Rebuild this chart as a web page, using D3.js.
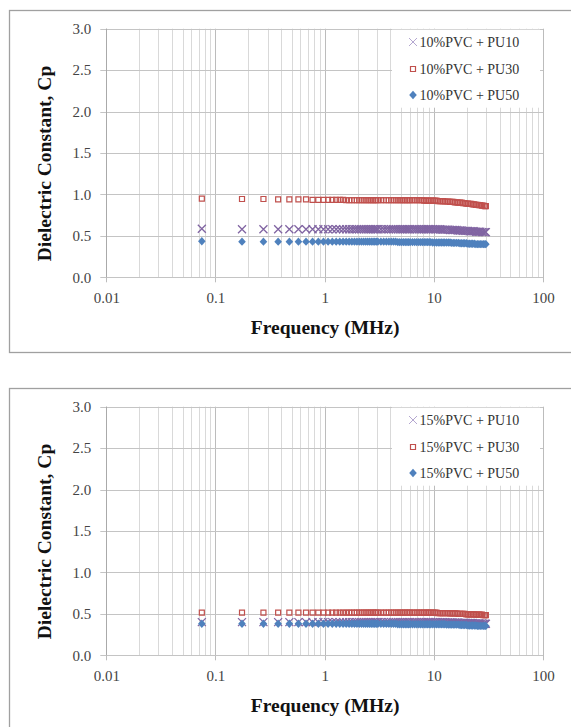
<!DOCTYPE html>
<html>
<head>
<meta charset="utf-8">
<script src="https://cdn.jsdelivr.net/npm/d3@7"></script>
<style>
  body { margin: 0; background: #fff; }
  text { font-family: "Liberation Serif", "Times New Roman", serif; }
</style>
</head>
<body>
<div id="chart"></div>
<script>
// Frequency sweep (MHz), shared by every series
const FREQ = [
  0.075, 0.175, 0.275, 0.375, 0.475, 0.575, 0.675, 0.775, 0.875, 0.975,
  1.075, 1.175, 1.275, 1.375, 1.475, 1.575, 1.675, 1.775, 1.875, 1.975,
  2.075, 2.175, 2.275, 2.375, 2.475, 2.575, 2.675, 2.775, 2.875, 2.975,
  3.075, 3.275, 3.475, 3.675, 3.875, 4.075, 4.275, 4.475, 4.675, 4.875, 5.075, 5.275, 5.475, 5.675, 5.875, 6.075,
  6.375, 6.675, 6.975, 7.275, 7.575, 7.875, 8.175, 8.475, 8.775, 9.075, 9.375,
  9.775, 10.175, 10.575, 10.975, 11.375, 11.775, 12.175, 12.575,
  13.075, 13.575, 14.075, 14.575, 15.075, 15.575,
  16.175, 16.775, 17.375, 17.975, 18.575, 19.175,
  19.875, 20.575, 21.275, 21.975, 22.675,
  23.475, 24.275, 25.075, 25.875, 26.675,
  27.575, 28.475, 29.375, 29.975
];

// 10% PVC panel
const CP_10_PU10 = [
  0.585, 0.58, 0.58, 0.58, 0.58, 0.58, 0.58, 0.58, 0.58, 0.58,
  0.58, 0.58, 0.58, 0.58, 0.58, 0.58, 0.58, 0.58, 0.58, 0.58,
  0.58, 0.58, 0.58, 0.58, 0.58, 0.58, 0.58, 0.58, 0.58, 0.58,
  0.58, 0.58, 0.58, 0.58, 0.58, 0.58, 0.58, 0.58, 0.58, 0.58, 0.58, 0.58, 0.58, 0.58, 0.58, 0.58,
  0.58, 0.58, 0.58, 0.58, 0.58, 0.58, 0.58, 0.58, 0.58, 0.58, 0.58,
  0.58, 0.58, 0.58, 0.58, 0.58, 0.575, 0.575, 0.575,
  0.575, 0.575, 0.57, 0.57, 0.57, 0.57,
  0.57, 0.565, 0.565, 0.565, 0.56, 0.56,
  0.56, 0.56, 0.555, 0.555, 0.555,
  0.555, 0.55, 0.55, 0.55, 0.55,
  0.545, 0.545, 0.545, 0.545
];
const CP_10_PU30 = [
  0.95, 0.945, 0.945, 0.94, 0.94, 0.94, 0.94, 0.935, 0.935, 0.935,
  0.935, 0.935, 0.935, 0.935, 0.935, 0.93, 0.93, 0.93, 0.93, 0.93,
  0.93, 0.93, 0.93, 0.93, 0.93, 0.93, 0.93, 0.93, 0.93, 0.93,
  0.93, 0.93, 0.93, 0.93, 0.93, 0.93, 0.93, 0.93, 0.93, 0.93, 0.93, 0.93, 0.93, 0.93, 0.93, 0.93,
  0.93, 0.93, 0.93, 0.93, 0.93, 0.93, 0.925, 0.925, 0.925, 0.925, 0.925,
  0.925, 0.925, 0.925, 0.92, 0.92, 0.92, 0.92, 0.915,
  0.915, 0.915, 0.91, 0.91, 0.91, 0.905,
  0.905, 0.90, 0.90, 0.90, 0.895, 0.895,
  0.89, 0.89, 0.885, 0.885, 0.88,
  0.88, 0.875, 0.875, 0.87, 0.87,
  0.865, 0.865, 0.86, 0.86
];
const CP_10_PU50 = [
  0.435, 0.43, 0.43, 0.43, 0.43, 0.43, 0.43, 0.43, 0.43, 0.43,
  0.43, 0.43, 0.43, 0.43, 0.43, 0.43, 0.43, 0.43, 0.43, 0.43,
  0.43, 0.43, 0.43, 0.43, 0.43, 0.43, 0.43, 0.43, 0.43, 0.43,
  0.43, 0.43, 0.43, 0.43, 0.43, 0.43, 0.43, 0.43, 0.425, 0.425, 0.425, 0.425, 0.425, 0.425, 0.425, 0.425,
  0.425, 0.425, 0.425, 0.425, 0.425, 0.425, 0.425, 0.425, 0.425, 0.425, 0.425,
  0.42, 0.42, 0.42, 0.42, 0.42, 0.42, 0.42, 0.42,
  0.42, 0.42, 0.42, 0.415, 0.415, 0.415,
  0.415, 0.415, 0.41, 0.41, 0.41, 0.41,
  0.41, 0.405, 0.405, 0.405, 0.405,
  0.405, 0.40, 0.40, 0.40, 0.40,
  0.40, 0.40, 0.40, 0.40
];

// 15% PVC panel
const CP_15_PU10 = [
  0.40, 0.40, 0.40, 0.40, 0.40, 0.40, 0.40, 0.40, 0.40, 0.40,
  0.40, 0.40, 0.40, 0.40, 0.40, 0.40, 0.40, 0.40, 0.40, 0.40,
  0.40, 0.40, 0.40, 0.40, 0.40, 0.40, 0.40, 0.40, 0.40, 0.40,
  0.40, 0.40, 0.40, 0.40, 0.40, 0.40, 0.40, 0.40, 0.40, 0.40, 0.40, 0.40, 0.40, 0.40, 0.40, 0.40,
  0.40, 0.40, 0.40, 0.40, 0.40, 0.40, 0.40, 0.40, 0.40, 0.40, 0.40,
  0.40, 0.40, 0.40, 0.40, 0.40, 0.40, 0.40, 0.40,
  0.395, 0.395, 0.395, 0.395, 0.395, 0.395,
  0.395, 0.395, 0.39, 0.39, 0.39, 0.39,
  0.39, 0.39, 0.39, 0.39, 0.39,
  0.385, 0.385, 0.385, 0.385, 0.385,
  0.385, 0.38, 0.38, 0.38
];
const CP_15_PU30 = [
  0.515, 0.515, 0.515, 0.515, 0.515, 0.515, 0.515, 0.515, 0.515, 0.515,
  0.515, 0.515, 0.515, 0.515, 0.515, 0.515, 0.515, 0.515, 0.515, 0.515,
  0.515, 0.515, 0.515, 0.515, 0.515, 0.515, 0.515, 0.515, 0.515, 0.515,
  0.515, 0.515, 0.515, 0.515, 0.515, 0.515, 0.515, 0.515, 0.515, 0.515, 0.515, 0.515, 0.515, 0.515, 0.515, 0.515,
  0.515, 0.515, 0.515, 0.515, 0.515, 0.515, 0.515, 0.515, 0.515, 0.515, 0.515,
  0.515, 0.515, 0.515, 0.51, 0.51, 0.51, 0.51, 0.51,
  0.51, 0.51, 0.505, 0.505, 0.505, 0.505,
  0.505, 0.50, 0.50, 0.50, 0.50, 0.50,
  0.495, 0.495, 0.495, 0.495, 0.495,
  0.495, 0.49, 0.49, 0.49, 0.49,
  0.49, 0.485, 0.485, 0.485
];
const CP_15_PU50 = [
  0.38, 0.38, 0.38, 0.38, 0.38, 0.38, 0.38, 0.38, 0.38, 0.38,
  0.38, 0.38, 0.38, 0.38, 0.38, 0.38, 0.38, 0.38, 0.38, 0.38,
  0.38, 0.38, 0.38, 0.38, 0.38, 0.38, 0.38, 0.38, 0.38, 0.38,
  0.38, 0.38, 0.38, 0.38, 0.38, 0.38, 0.38, 0.38, 0.375, 0.375, 0.375, 0.375, 0.375, 0.375, 0.375, 0.375,
  0.375, 0.375, 0.375, 0.375, 0.375, 0.375, 0.375, 0.375, 0.375, 0.375, 0.375,
  0.375, 0.375, 0.375, 0.375, 0.375, 0.375, 0.375, 0.375,
  0.37, 0.37, 0.37, 0.37, 0.37, 0.37,
  0.37, 0.37, 0.365, 0.365, 0.365, 0.365,
  0.365, 0.36, 0.36, 0.36, 0.36,
  0.36, 0.36, 0.355, 0.355, 0.355,
  0.355, 0.355, 0.355, 0.355
];

const X_TICKS = [0.01, 0.1, 1, 10, 100];
const Y_TICKS = [0, 0.5, 1, 1.5, 2, 2.5, 3];
const LABELS_10 = ["10%PVC + PU10", "10%PVC + PU30", "10%PVC + PU50"];
const LABELS_15 = ["15%PVC + PU10", "15%PVC + PU30", "15%PVC + PU50"];

// layout
const WIDTH = 571;
const HEIGHT = 727;
const PLOT = { left: 106.3, right: 543, top: 28.7, bottom: 277.3 };
const PANEL_GAP = 378;
const COLORS = ["#8064a2", "#c0504d", "#4f81bd"];

let svg;

setup();

function setup () {
  svg = d3.select('#chart')
    .append('svg')
    .attr('width', WIDTH)
    .attr('height', HEIGHT);

  svg.append('rect')
    .attr('width', WIDTH)
    .attr('height', HEIGHT)
    .attr('fill', '#fff');

  drawPanel(0, [CP_10_PU10, CP_10_PU30, CP_10_PU50], LABELS_10);
  drawPanel(PANEL_GAP, [CP_15_PU10, CP_15_PU30, CP_15_PU50], LABELS_15);
}

// marker path for series i, centered at 0,0
function markerPath (i) {
  if (i === 0) return 'M-4,-4L4,4M-4,4L4,-4';
  if (i === 1) return 'M-2.5,-2.5H2.5V2.5H-2.5Z';
  return 'M0,-4.2L3.8,0L0,4.2L-3.8,0Z';
}

function styleMarker (sel, i) {
  if (i === 0) {
    sel.attr('fill', 'none').attr('stroke', COLORS[0]).attr('stroke-width', 1.3);
  } else if (i === 1) {
    sel.attr('fill', 'none').attr('stroke', COLORS[1]).attr('stroke-width', 1.2);
  } else {
    sel.attr('fill', COLORS[2]).attr('stroke', 'none');
  }
}

function drawPanel (offsetY, series, labels) {
  const g = svg.append('g')
    .attr('transform', `translate(0, ${offsetY})`);

  // outer border of the chart box
  g.append('rect')
    .attr('x', 9.5)
    .attr('y', 10.5)
    .attr('width', 600)
    .attr('height', 342)
    .attr('fill', 'none')
    .attr('stroke', '#a0a0a0')
    .attr('stroke-width', 1.3);

  const xScale = d3.scaleLog()
    .domain([0.01, 100])
    .range([PLOT.left, PLOT.right]);

  const yScale = d3.scaleLinear()
    .domain([0, 3])
    .range([PLOT.bottom, PLOT.top]);

  // vertical gridlines, minor then major
  const minor = xScale.ticks().filter(d => !X_TICKS.includes(d));
  g.append('g')
    .selectAll('line')
    .data(minor)
    .enter()
    .append('line')
    .attr('x1', d => Math.round(xScale(d)) + 0.5)
    .attr('x2', d => Math.round(xScale(d)) + 0.5)
    .attr('y1', PLOT.top)
    .attr('y2', PLOT.bottom)
    .attr('stroke', '#d9d9d9');

  g.append('g')
    .selectAll('line')
    .data(X_TICKS)
    .enter()
    .append('line')
    .attr('x1', d => Math.round(xScale(d)) + 0.5)
    .attr('x2', d => Math.round(xScale(d)) + 0.5)
    .attr('y1', PLOT.top)
    .attr('y2', PLOT.bottom + 5)
    .attr('stroke', '#bcbcbc');

  // horizontal gridlines
  g.append('g')
    .selectAll('line')
    .data(Y_TICKS)
    .enter()
    .append('line')
    .attr('x1', PLOT.left - 6)
    .attr('x2', PLOT.right)
    .attr('y1', d => Math.round(yScale(d)) + 0.5)
    .attr('y2', d => Math.round(yScale(d)) + 0.5)
    .attr('stroke', '#c4c4c4');

  // x axis
  const xAxis = g.append('g')
    .attr('transform', `translate(0, ${PLOT.bottom})`)
    .call(d3.axisBottom(xScale).tickValues(X_TICKS).tickSize(0).tickPadding(15)
      .tickFormat(d => String(d)));
  xAxis.select('.domain').remove();
  xAxis.selectAll('text')
    .attr('font-family', '"Liberation Serif", serif')
    .attr('font-size', 15)
    .attr('fill', '#444');

  // y axis
  const yAxis = g.append('g')
    .attr('transform', `translate(${PLOT.left}, 0)`)
    .call(d3.axisLeft(yScale).tickValues(Y_TICKS).tickSize(0).tickPadding(15)
      .tickFormat(d3.format('.1f')));
  yAxis.select('.domain').remove();
  yAxis.selectAll('text')
    .attr('font-family', '"Liberation Serif", serif')
    .attr('font-size', 15)
    .attr('fill', '#444');

  // axis lines
  g.append('line')
    .attr('x1', Math.round(PLOT.left) + 0.5)
    .attr('x2', Math.round(PLOT.left) + 0.5)
    .attr('y1', PLOT.top)
    .attr('y2', PLOT.bottom)
    .attr('stroke', '#aaa');

  // axis titles
  g.append('text')
    .attr('x', (PLOT.left + PLOT.right) / 2 + 0.5)
    .attr('y', 334)
    .attr('text-anchor', 'middle')
    .attr('font-weight', 'bold')
    .attr('font-size', 19.5)
    .attr('fill', '#111')
    .text('Frequency (MHz)');

  g.append('text')
    .attr('transform', `translate(51, ${163.5}) rotate(-90)`)
    .attr('text-anchor', 'middle')
    .attr('font-weight', 'bold')
    .attr('font-size', 19.5)
    .attr('fill', '#111')
    .text('Dielectric Constant,  Cp');

  // data markers, first series underneath
  series.forEach((values, i) => {
    if (values.length !== FREQ.length) console.warn('length mismatch', i, values.length);
    const pts = FREQ.map((f, j) => ({ f: f, v: values[j] }));
    const marks = g.append('g')
      .selectAll('path')
      .data(pts)
      .enter()
      .append('path')
      .attr('transform', d => `translate(${xScale(d.f)}, ${yScale(d.v)})`)
      .attr('d', markerPath(i));
    styleMarker(marks, i);
  });

  // legend box
  const legend = g.append('g');
  legend.append('rect')
    .attr('x', 392)
    .attr('y', PLOT.top + 1)
    .attr('width', 148)
    .attr('height', 78)
    .attr('fill', '#fff');

  const rowY = [42, 69, 95];
  labels.forEach((label, i) => {
    const m = legend.append('path')
      .attr('transform', `translate(413, ${rowY[i]})`)
      .attr('d', markerPath(i));
    styleMarker(m, i);
    if (i === 0) m.attr('stroke', '#b4a7d0').attr('stroke-width', 1);
    legend.append('text')
      .attr('x', 419.5)
      .attr('y', rowY[i] + 5)
      .attr('font-size', 14)
      .attr('fill', '#333')
      .text(label);
  });
}
</script>
</body>
</html>
